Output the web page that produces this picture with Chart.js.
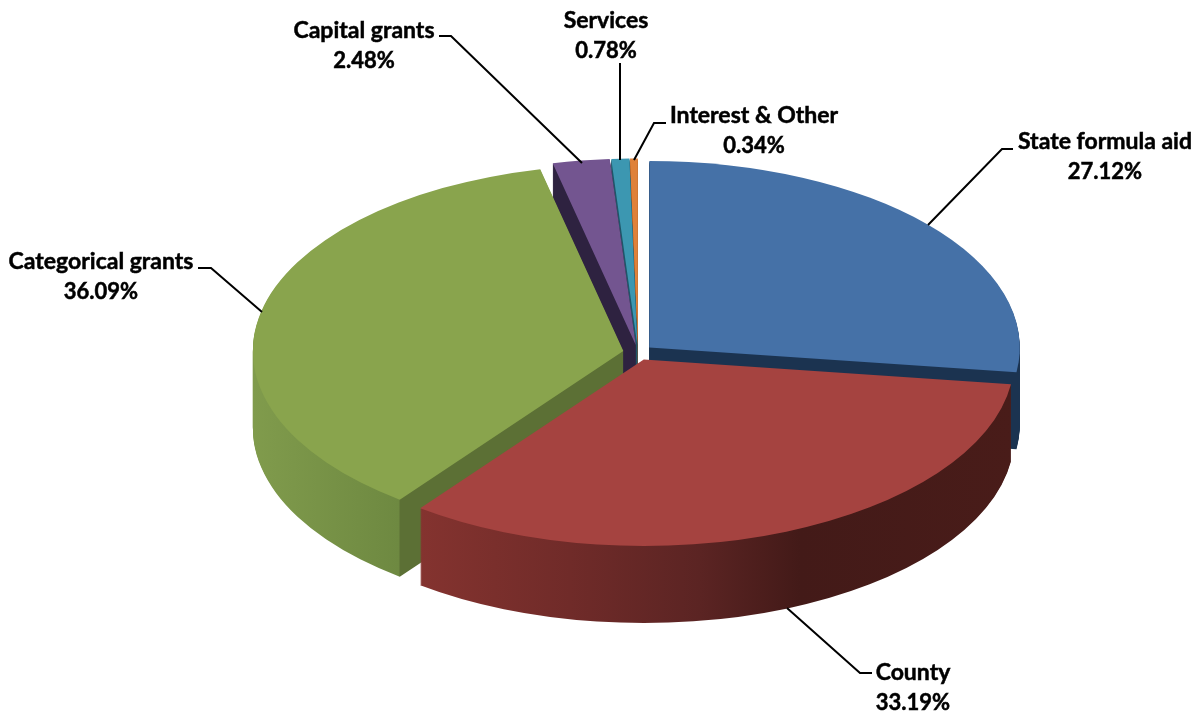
<!DOCTYPE html>
<html>
<head>
<meta charset="utf-8">
<script src="https://cdn.jsdelivr.net/npm/chart.js@4"></script>
<style>
  html, body { margin: 0; padding: 0; background: #fff; overflow: hidden; }
  canvas { display: block; }
</style>
</head>
<body>
<canvas id="chart" width="1204" height="713"></canvas>
<script>
const categories = ['State formula aid', 'County', 'Categorical grants', 'Capital grants', 'Services', 'Interest & Other'];
const shares = [27.12, 33.19, 36.09, 2.48, 0.78, 0.34];
const topColors = ['#4571a7', '#a54340', '#89a44d', '#735590', '#3c97b1', '#df8139'];

// x position / colour stops for the extruded sides, one list per slice
const sideStops = [
  [[0, '#1b3350'], [1204, '#1b3350']],
  [[420, '#84332f'], [570, '#702b29'], [700, '#5b2423'], [800, '#431a18'], [1012, '#491c19']],
  [[253, '#809b4c'], [399, '#6e8941'], [400, '#5c7035'], [640, '#5c7035']],
  [[0, '#2e2240'], [1204, '#2e2240']],
  [[0, '#1f5568'], [1204, '#1f5568']],
  [[0, '#8a4e20'], [1204, '#8a4e20']]
];

const TILT = 0.5034;
const DEPTH = 77;
const EXPLODE = 15;
const CENTER_Y = 352.5;
// back to front
const drawOrder = [0, 5, 4, 3, 2, 1];

// label centre, first line y, leader line
const labelLayout = [
  { x: 1105, y: 142, line: [[928, 225], [1002, 149], [1013, 149]] },
  { x: 913, y: 673, line: [[787, 608], [860, 673], [872, 673]] },
  { x: 101, y: 262, line: [[198, 268], [211, 268], [262, 312]] },
  { x: 364, y: 31, line: [[439, 36], [451, 36], [582, 163]] },
  { x: 606, y: 21, line: [[620, 63], [620, 160]] },
  { x: 754, y: 116, line: [[666, 123], [654, 123], [634, 160]] }
];

function sideFill(ctx, stops, dx) {
  const x0 = stops[0][0], x1 = stops[stops.length - 1][0];
  const g = ctx.createLinearGradient(x0 - dx, 0, x1 - dx, 0);
  stops.forEach(s => g.addColorStop((s[0] - x0) / (x1 - x0), s[1]));
  return g;
}

function heavyText(ctx, text, x, y) {
  ctx.fillText(text, x, y);
  ctx.strokeText(text, x, y);
}

const pie3d = {
  id: 'pie3d',
  beforeDatasetDraw(chart, args) {
    const ctx = chart.ctx;
    const arcs = args.meta.data;
    ctx.save();
    ctx.translate(0, CENTER_Y);
    ctx.scale(1, TILT);
    ctx.translate(0, -arcs[0].y);
    drawOrder.forEach(i => {
      const arc = arcs[i];
      const mid = (arc.startAngle + arc.endAngle) / 2;
      const dx = Math.cos(mid) * EXPLODE;
      const dy = Math.sin(mid) * EXPLODE;
      const saved = arc.options;
      // side wall: stack of darker copies of the same arc
      arc.options = Object.assign({}, saved, { backgroundColor: sideFill(ctx, sideStops[i], dx) });
      for (let d = DEPTH; d > 0; d--) {
        ctx.save();
        ctx.translate(dx, dy + d / TILT);
        arc.draw(ctx);
        ctx.restore();
      }
      arc.options = saved;
      ctx.save();
      ctx.translate(dx, dy);
      arc.draw(ctx);
      ctx.restore();
    });
    ctx.restore();
    return false;
  },
  afterDraw(chart) {
    const ctx = chart.ctx;
    ctx.save();
    ctx.strokeStyle = '#000';
    ctx.fillStyle = '#000';
    ctx.textAlign = 'center';
    ctx.textBaseline = 'middle';
    categories.forEach((name, i) => {
      const l = labelLayout[i];
      ctx.lineWidth = 2;
      ctx.beginPath();
      l.line.forEach((p, k) => k ? ctx.lineTo(p[0], p[1]) : ctx.moveTo(p[0], p[1]));
      ctx.stroke();
      ctx.lineWidth = 0.5;
      ctx.font = 'bold 23px Lato';
      heavyText(ctx, name, l.x, l.y);
      ctx.font = 'bold 22px Lato';
      heavyText(ctx, shares[i].toFixed(2) + '%', l.x, l.y + 30);
    });
    ctx.restore();
  }
};

new Chart(document.getElementById('chart').getContext('2d'), {
  type: 'pie',
  data: {
    labels: categories,
    datasets: [{ data: shares, backgroundColor: topColors, borderWidth: 0 }]
  },
  options: {
    responsive: false,
    animation: false,
    radius: 370.5,
    layout: { padding: { left: 72, bottom: 8 } },
    plugins: { legend: { display: false }, tooltip: { enabled: false } }
  },
  plugins: [pie3d]
});
</script>
</body>
</html>
